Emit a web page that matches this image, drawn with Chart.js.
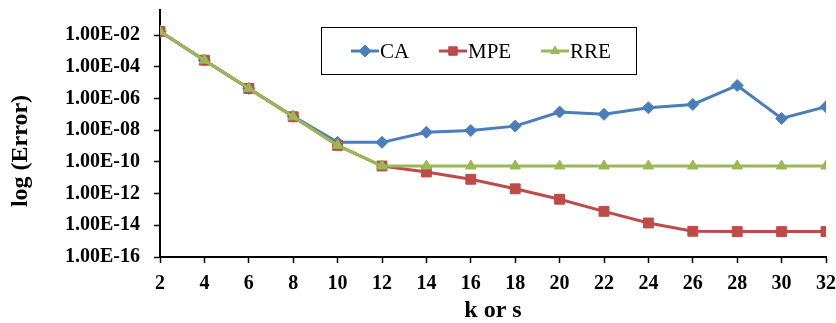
<!DOCTYPE html>
<html>
<head>
<meta charset="utf-8">
<script src="https://cdn.jsdelivr.net/npm/chart.js@4"></script>
<style>
  body { margin: 0; background: #fff; }
  #wrap { width: 836px; height: 323px; }
</style>
</head>
<body>
<div id="wrap"><canvas id="grafica"></canvas></div>
<script>
const ks = [2, 4, 6, 8, 10, 12, 14, 16, 18, 20, 22, 24, 26, 28, 30, 32];

const errCA  = [1.7e-2, 2.6e-4, 4.3e-6, 7.5e-8, 1.7e-9, 1.7e-9, 7.4e-9, 9.5e-9, 1.8e-8, 1.4e-7, 1.0e-7, 2.6e-7, 4.2e-7, 6.6e-6, 5.5e-8, 3.0e-7];
const errMPE = [1.7e-2, 2.6e-4, 4.3e-6, 7.0e-8, 1.1e-9, 5.5e-11, 2.3e-11, 8.0e-12, 2.0e-12, 4.4e-13, 7.6e-14, 1.4e-14, 4.2e-15, 4.0e-15, 4.0e-15, 4.0e-15];
const errRRE = [1.7e-2, 2.6e-4, 4.3e-6, 7.0e-8, 1.1e-9, 5.5e-11, 5.5e-11, 5.5e-11, 5.5e-11, 5.5e-11, 5.5e-11, 5.5e-11, 5.5e-11, 5.5e-11, 5.5e-11, 5.5e-11];

const yTicks = [1e-16, 1e-14, 1e-12, 1e-10, 1e-8, 1e-6, 1e-4, 1e-2];

const azul = '#4A7EBB';
const rojo = '#BE4B48';
const verde = '#98B954';

const puntos = (ys) => ks.map((k, i) => ({ x: k, y: ys[i] }));

const serie = (label, ys, color, estilo, radio, orden) => ({
    label: label,
    data: puntos(ys),
    borderColor: color,
    backgroundColor: color,
    borderWidth: 3,
    pointStyle: estilo,
    pointRadius: radio,
    pointHoverRadius: radio,
    pointBorderWidth: 1,
    order: orden,
});

// leyenda con marco y título del eje y, como en la figura original
const leyendaMarco = {
    id: 'leyendaMarco',
    afterDraw(chart) {
        const ctx = chart.ctx;
        ctx.save();
        ctx.strokeStyle = '#000';
        ctx.lineWidth = 1;
        ctx.strokeRect(321.5, 27.5, 315, 47);
        const items = [
            { t: 'CA', c: azul, s: 'rectRot', x: 351, r: 6 },
            { t: 'MPE', c: rojo, s: 'rect', x: 439, r: 6 },
            { t: 'RRE', c: verde, s: 'triangle', x: 541, r: 5 },
        ];
        const yc = 51;
        ctx.font = '21px "Liberation Serif"';
        ctx.textBaseline = 'middle';
        items.forEach(it => {
            ctx.strokeStyle = it.c;
            ctx.lineWidth = 3;
            ctx.beginPath();
            ctx.moveTo(it.x, yc);
            ctx.lineTo(it.x + 28, yc);
            ctx.stroke();
            ctx.fillStyle = it.c;
            ctx.lineWidth = 1;
            Chart.helpers.drawPoint(ctx, { pointStyle: it.s, radius: it.r, borderWidth: 1 }, it.x + 14, yc);
            ctx.fillStyle = '#000';
            ctx.fillText(it.t, it.x + 29, yc + 1);
        });

        ctx.translate(21, 151);
        ctx.rotate(-Math.PI / 2);
        ctx.font = 'bold 24px "Liberation Serif"';
        ctx.textAlign = 'center';
        ctx.fillText('log (Error)', 0, 0);
        ctx.restore();
    }
};

const rejilla = { display: true, drawOnChartArea: false, drawTicks: true, tickLength: 6, tickColor: '#000', tickWidth: 1.5 };

new Chart(document.querySelector('#grafica'), {
    type: 'line',
    data: {
        datasets: [
            serie('CA', errCA, azul, 'rectRot', 6, 2),
            serie('MPE', errMPE, rojo, 'rect', 7, 1),
            serie('RRE', errRRE, verde, 'triangle', 6, 0),
        ]
    },
    options: {
        responsive: true,
        maintainAspectRatio: false,
        animation: false,
        layout: { padding: 0 },
        plugins: {
            legend: { display: false },
            tooltip: { enabled: false },
        },
        scales: {
            x: {
                type: 'linear',
                min: 2,
                max: 32,
                afterFit: (s) => {
                    s.height = 66;
                    s.paddingLeft = 0;
                    s.paddingRight = 10;
                },
                ticks: {
                    stepSize: 2,
                    color: '#000',
                    padding: 9,
                    font: { family: 'Liberation Serif', size: 20, weight: 'bold' },
                },
                grid: rejilla,
                border: { color: '#000', width: 2 },
                title: {
                    display: true,
                    text: 'k or s',
                    color: '#000',
                    padding: { top: 0, bottom: 0 },
                    font: { family: 'Liberation Serif', size: 24, weight: 'bold', lineHeight: 1 },
                },
            },
            y: {
                type: 'logarithmic',
                min: 1e-16,
                max: 0.38,
                afterFit: (s) => {
                    s.width = 160;
                    s.paddingTop = 10;
                    s.paddingBottom = 0;
                },
                afterBuildTicks: (axis) => {
                    axis.ticks = yTicks.map(v => ({ value: v }));
                },
                ticks: {
                    color: '#000',
                    padding: 14,
                    callback: (v) => {
                        const e = Math.round(Math.log10(v));
                        const s = String(Math.abs(e)).padStart(2, '0');
                        return '1.00E' + (e < 0 ? '-' : '+') + s;
                    },
                    font: { family: 'Liberation Serif', size: 20, weight: 'bold' },
                },
                grid: rejilla,
                border: { color: '#000', width: 2 },
            },
        },
    },
    plugins: [leyendaMarco],
});
</script>
</body>
</html>
